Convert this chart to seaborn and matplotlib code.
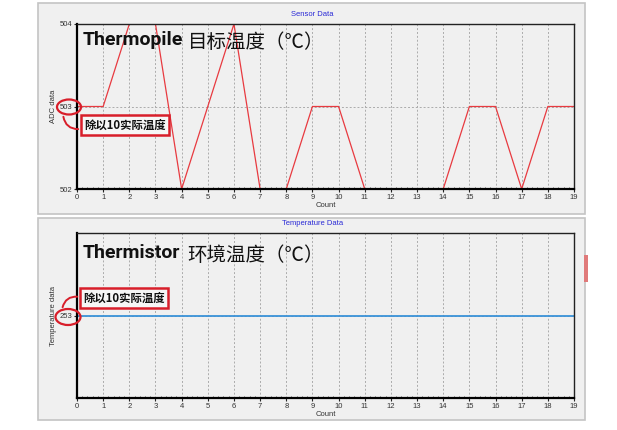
import numpy as np
import pandas as pd
import seaborn as sns
import matplotlib.pyplot as plt
from matplotlib.patches import Rectangle, Ellipse, FancyArrowPatch
from matplotlib.ticker import MultipleLocator

# data
count = list(range(20))
adc_data = [503, 503, 504, 504, 502, 503, 504, 502, 502, 503,
            503, 502, 502, 502, 502, 503, 503, 502, 503, 503]
temp_data = [253] * 20

sns.set_style('white')
plt.rcParams['font.family'] = ['Liberation Sans', 'DejaVu Sans']

W, H = 617, 430
fig = plt.figure(figsize=(W / 100, H / 100), dpi=100)
fig.patch.set_facecolor('white')


def fx(px):
    return px / W


def fy(py):
    return 1 - py / H


# panel backgrounds (the window frame of the screenshot)
for y0, y1 in [(3, 214), (218, 420)]:
    fig.patches.append(Rectangle((fx(38), fy(y1)), fx(547), (y1 - y0) / H,
                                 transform=fig.transFigure, facecolor='#f0f0f0',
                                 edgecolor='#c4c4c4', lw=1.2, zorder=-2))
fig.patches.append(Rectangle((fx(584), fy(282)), fx(4), 27 / H, transform=fig.transFigure,
                             facecolor='#e07a7a', edgecolor='none', zorder=-1))

ax1 = fig.add_axes([fx(77), fy(189), fx(497), 165 / H])
ax2 = fig.add_axes([fx(77), fy(398), fx(497), 165 / H])

df1 = pd.DataFrame({'Count': count, 'ADC data': adc_data})
df2 = pd.DataFrame({'Count': count, 'Temperature data': temp_data})

sns.lineplot(data=df1, x='Count', y='ADC data', ax=ax1, color='#e83a40', lw=0.9)
sns.lineplot(data=df2, x='Count', y='Temperature data', ax=ax2, color='#3a92d8', lw=1.3)

ax1.set_ylim(502, 504)
ax1.set_yticks([502, 503, 504])
ax2.set_ylim(252.5, 253.5)
ax2.set_yticks([253])

for ax, title in [(ax1, 'Sensor Data'), (ax2, 'Temperature Data')]:
    ax.set_zorder(1)
    ax.set_facecolor('#f0f0f0')
    ax.set_xlim(0, 19)
    ax.set_xticks(count)
    ax.xaxis.set_minor_locator(MultipleLocator(0.2))
    ax.grid(True, which='major', color='#ababab', lw=0.7, linestyle=(0, (2, 2)))
    ax.tick_params(which='major', labelsize=5.5, labelcolor='#333333', length=2,
                   width=0.8, pad=1.5, bottom=True, left=True, direction='out')
    ax.tick_params(which='minor', axis='x', length=1.5, width=0.5, bottom=True, direction='in')
    for s in ['left', 'bottom']:
        ax.spines[s].set_color('black')
        ax.spines[s].set_linewidth(1.6)
    for s in ['top', 'right']:
        ax.spines[s].set_color('#222222')
        ax.spines[s].set_linewidth(1.0)
        ax.spines[s].set_linestyle((0, (1.5, 1)))
    ax.set_xlabel('Count', fontsize=5.5, color='#333333', labelpad=1)
    ax.set_ylabel(ax.get_ylabel(), fontsize=5.5, color='#333333', labelpad=2)
    ax.set_title(title, fontsize=5.5, color='#2a2ad6', x=0.473, pad=6)

# big overlay captions
big = dict(color='#111111', va='baseline', zorder=5)
fig.text(fx(83), fy(45), 'Thermopile', family=['Roboto', 'DejaVu Sans'],
         weight='bold', fontsize=14, **big)
fig.text(fx(188), fy(48), '目标温度（℃）', family=['Noto Sans CJK SC', 'DejaVu Sans'],
         fontsize=14, **big)
fig.text(fx(83), fy(258), 'Thermistor', family=['Roboto', 'DejaVu Sans'],
         weight='bold', fontsize=14, **big)
fig.text(fx(187), fy(261), '环境温度（℃）', family=['Noto Sans CJK SC', 'DejaVu Sans'],
         fontsize=14, **big)

# red call-outs
red = '#d81e2a'
for (bx0, by0, bx1, by1), (ex, ey, ew, eh), (p0, p1, rad) in [
        ((81, 115, 169, 135), (69, 107, 24, 15), ((63, 114), (81, 129), 0.5)),
        ((80, 288, 168, 308), (68, 317, 25, 16), ((62, 310), (80, 297), -0.5))]:
    fig.patches.append(Rectangle((fx(bx0), fy(by1)), fx(bx1 - bx0), (by1 - by0) / H,
                                 transform=fig.transFigure, facecolor='#f6f6f6',
                                 edgecolor=red, lw=1.8, zorder=5))
    fig.text(fx((bx0 + bx1) / 2), fy((by0 + by1) / 2), '除以10实际温度', ha='center',
             va='center', fontsize=8.2, weight='bold', color='#111111',
             family=['Noto Sans CJK SC', 'DejaVu Sans'], zorder=6)
    fig.patches.append(Ellipse((fx(ex), fy(ey)), fx(ew), eh / H, transform=fig.transFigure,
                               fill=False, edgecolor=red, lw=1.6, zorder=5))
    fig.patches.append(FancyArrowPatch((fx(p0[0]), fy(p0[1])), (fx(p1[0]), fy(p1[1])),
                                       transform=fig.transFigure, arrowstyle='-',
                                       connectionstyle=f'arc3,rad={rad}', color=red,
                                       lw=1.4, zorder=5))

fig.savefig('out.png', dpi=100)
